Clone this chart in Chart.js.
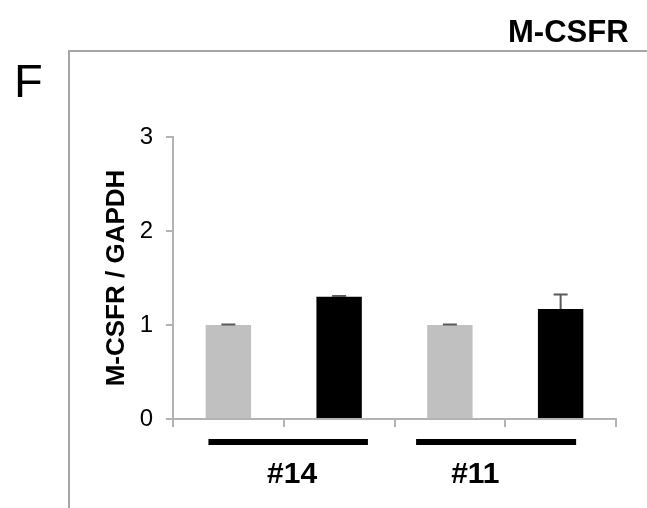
<!DOCTYPE html>
<html>
<head>
<meta charset="utf-8">
<script src="https://cdn.jsdelivr.net/npm/chart.js@4.4.1/dist/chart.umd.min.js"></script>
<style>
  html, body { margin: 0; padding: 0; background: #fff; }
  #wrap { width: 647px; height: 508px; }
</style>
</head>
<body>
<div id="wrap"><canvas id="chart" width="647" height="508"></canvas></div>
<script>
// Data
const categories = ["#14 ctrl", "#14 KD", "#11 ctrl", "#11 KD"];
const values = [1.0, 1.3, 1.0, 1.17];
const errors = [0.005, 0.008, 0.005, 0.155];
const barColors = ["#c0c0c0", "#000000", "#c0c0c0", "#000000"];
const yTicks = [0, 1, 2, 3];
const groupLabels = ["#14", "#11"];
const groupFirst = [0, 2];
const groupLast = [1, 3];

const panelLetter = "F";
const panelTitle = "M-CSFR";
const yTitle = "M-CSFR / GAPDH";

// layout tweaks for the group brackets (in category widths)
const lineLeftInset = [0.18, 0.305];
const lineRightInset = [0.26, 0.14];
const labelShift = [0.075, -0.27];

const FONT = "'Liberation Sans', Arial, sans-serif";
const AXIS_GREY = "#b3b3b3";

const errorBars = {
  id: "errorBars",
  afterDatasetsDraw(chart) {
    const { ctx } = chart;
    const y = chart.scales.y;
    const meta = chart.getDatasetMeta(0);
    ctx.save();
    ctx.strokeStyle = "#5a5a5a";
    ctx.lineWidth = 2;
    meta.data.forEach((bar, i) => {
      const top = y.getPixelForValue(values[i] + errors[i]);
      ctx.beginPath();
      ctx.moveTo(bar.x, bar.y);
      ctx.lineTo(bar.x, top);
      ctx.moveTo(bar.x - 7, top);
      ctx.lineTo(bar.x + 7, top);
      ctx.stroke();
    });
    ctx.restore();
  },
};

const decorations = {
  id: "decorations",
  afterDraw(chart) {
    const { ctx } = chart;
    const x = chart.scales.x;
    const w = x.getPixelForValue(1) - x.getPixelForValue(0);
    ctx.save();

    // panel frame
    ctx.strokeStyle = "#a6a6a6";
    ctx.lineWidth = 2;
    ctx.beginPath();
    ctx.moveTo(647, 51);
    ctx.lineTo(69, 51);
    ctx.lineTo(69, 508);
    ctx.stroke();

    // panel letter
    ctx.fillStyle = "#000";
    ctx.textAlign = "left";
    ctx.textBaseline = "alphabetic";
    ctx.font = "47px " + FONT;
    ctx.fillText(panelLetter, 14, 97);

    // panel title
    ctx.font = "bold 31px " + FONT;
    ctx.fillText(panelTitle, 508, 42);

    // group brackets and labels
    groupLabels.forEach((label, g) => {
      const c0 = x.getPixelForValue(groupFirst[g]);
      const c1 = x.getPixelForValue(groupLast[g]);
      ctx.fillRect(c0 - lineLeftInset[g] * w, 439, (c1 + lineRightInset[g] * w) - (c0 - lineLeftInset[g] * w), 6);
      ctx.font = "bold 30px " + FONT;
      ctx.textAlign = "center";
      ctx.fillText(label, (c0 + c1) / 2 + labelShift[g] * w, 483);
    });
    ctx.restore();
  },
};

new Chart(document.getElementById("chart"), {
  type: "bar",
  data: {
    labels: categories,
    datasets: [
      {
        data: values,
        backgroundColor: barColors,
        borderWidth: 0,
        barPercentage: 0.41,
        categoryPercentage: 1,
      },
    ],
  },
  options: {
    responsive: false,
    animation: false,
    layout: { padding: { left: 0, right: 31, top: 137, bottom: 0 } },
    plugins: {
      legend: { display: false },
      tooltip: { enabled: false },
    },
    scales: {
      x: {
        grid: {
          offset: true,
          drawOnChartArea: false,
          drawTicks: true,
          tickLength: 8,
          color: AXIS_GREY,
          lineWidth: 2,
        },
        border: { display: true, color: AXIS_GREY, width: 2 },
        ticks: { display: false },
        afterFit(scale) {
          scale.height = 89;
        },
      },
      y: {
        min: 0,
        max: 3,
        afterBuildTicks(scale) {
          scale.ticks = yTicks.map((v) => ({ value: v }));
        },
        grid: {
          drawOnChartArea: false,
          drawTicks: true,
          tickLength: 7,
          color: AXIS_GREY,
          lineWidth: 2,
        },
        border: { display: true, color: AXIS_GREY, width: 2 },
        ticks: {
          color: "#000",
          padding: 13,
          font: { family: FONT, size: 24 },
        },
        title: {
          display: true,
          text: yTitle,
          color: "#000",
          font: { family: FONT, size: 26, weight: "bold" },
          padding: { top: 101, bottom: 0 },
        },
        afterFit(scale) {
          scale.width = 173;
        },
      },
    },
  },
  plugins: [errorBars, decorations],
});
</script>
</body>
</html>
